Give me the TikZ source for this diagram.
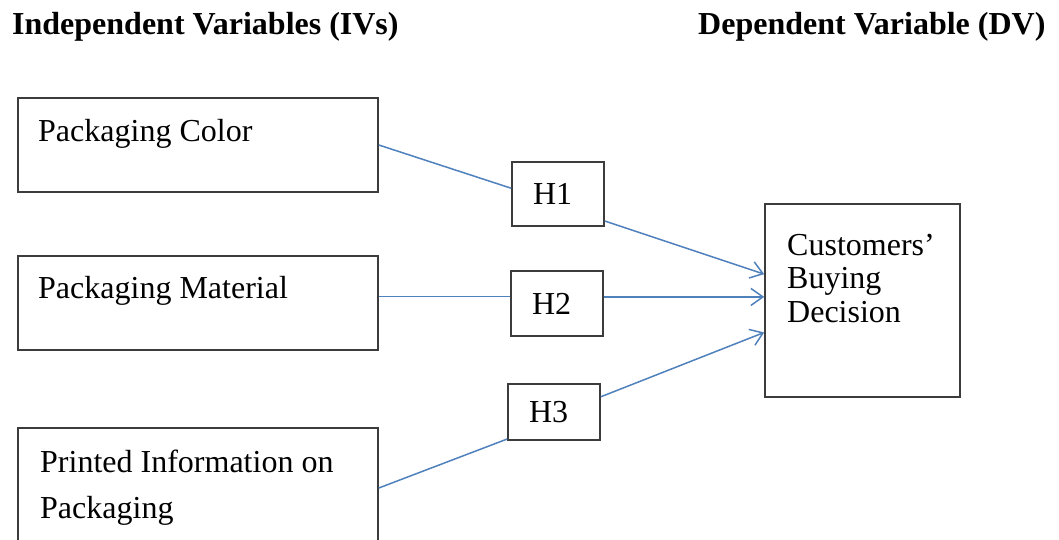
\documentclass[tikz,border=0pt]{standalone}
\usepackage{fontspec}
\setmainfont{Liberation Serif}
\usetikzlibrary{arrows.meta}
\definecolor{linkblue}{RGB}{79,129,189}
\definecolor{boxgray}{RGB}{60,60,60}
\tikzset{
  box/.style={draw=boxgray, line width=1.6pt, rectangle, inner sep=0pt},
  hbox/.style={box, minimum width=92pt, text width=50pt, inner xsep=21pt, align=left, font=\fontsize{32}{32}\selectfont},
  txt/.style={anchor=base west, inner sep=0pt, font=\fontsize{32}{32}\selectfont},
  head/.style={anchor=base west, inner sep=0pt, font=\fontsize{32}{32}\selectfont\bfseries},
  link/.style={draw=linkblue, line width=1.5pt},
  arr/.style={link, -{Straight Barb[length=12pt, width=17pt, line width=1.5pt]}}
}
\begin{document}
\begin{tikzpicture}[x=1pt, y=-1pt]
\clip (0,0) rectangle (1059,540);
\fill[white] (0,0) rectangle (1059,540);
% headings
\node[head] (ivh) at (12,35) {Independent Variables (IVs)};
\node[head] (dvh) at (698,35) {Dependent Variable (DV)};
% independent variable boxes
\node[box, minimum width=360pt, minimum height=94pt] (c1) at (198,145) {};
\node[box, minimum width=360pt, minimum height=94pt] (c2) at (198,303) {};
\node[box, minimum width=360pt, minimum height=120pt] (c3) at (198,488) {};
\node[txt] (t1) at (38,142) {Packaging Color};
\node[txt] (t2) at (38,298) {Packaging Material};
\node[txt] (t3a) at (40,472) {Printed Information on};
\node[txt] (t3b) at (40,518) {Packaging};
% hypothesis boxes
\node[hbox, minimum height=64pt] (h1) at (558,194) {H1};
\node[hbox, minimum height=65pt] (h2) at (557,303.5) {H2};
\node[hbox, minimum height=56pt] (h3) at (554,412) {H3};
% dependent variable box
\node[box, minimum width=195pt, minimum height=193pt] (dv) at (862.5,300.5) {};
\node[txt] (d1) at (787,255) {Customers’};
\node[txt] (d2) at (787,288) {Buying};
\node[txt] (d3) at (787,322) {Decision};
% connectors
\draw[link] (c1.east) -- (h1.173);
\draw[arr] (h1.-30) -- (dv.165);
\draw[link] (c2.2) -- (c2.2 -| h2.west);
\draw[arr] (h2.8) -- (h2.8 -| dv.west);
\draw[link] (c3.east) -- (h3.210);
\draw[arr] (h3.18) -- (dv.198);
\end{tikzpicture}
\end{document}
